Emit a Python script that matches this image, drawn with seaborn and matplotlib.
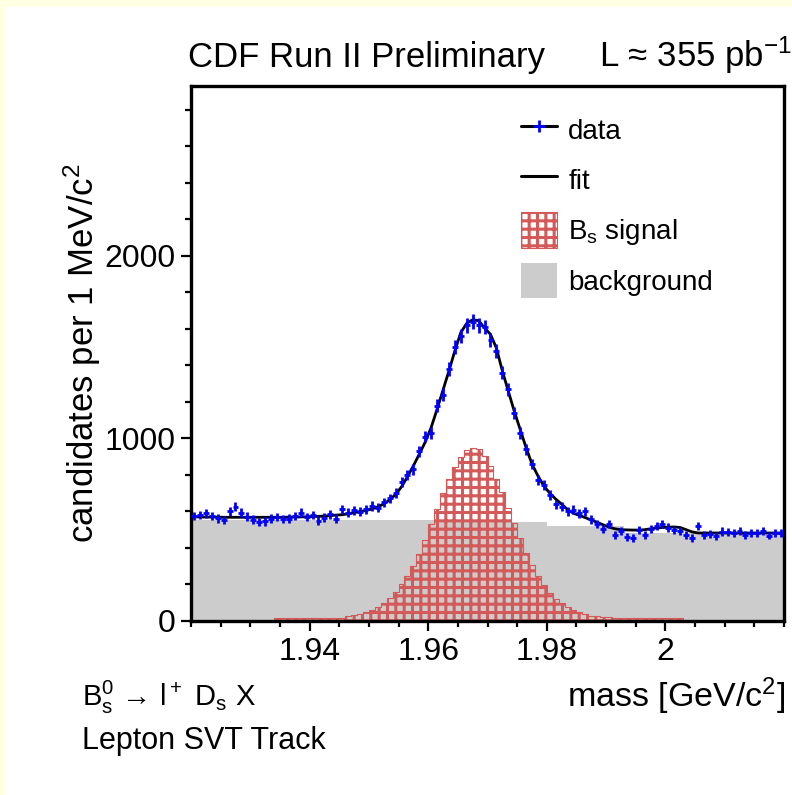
import numpy as np
import matplotlib
matplotlib.use('Agg')
import matplotlib.pyplot as plt
import seaborn as sns
from matplotlib.lines import Line2D
from matplotlib.patches import Patch, Rectangle
from matplotlib.ticker import MultipleLocator

sns.set_style('ticks')
plt.rcParams['font.family'] = ['Liberation Sans', 'DejaVu Sans']
plt.rcParams['mathtext.default'] = 'regular'
plt.rcParams['hatch.linewidth'] = 2.2
plt.rcParams['hatch.color'] = '#d45959'
plt.rcParams['text.color'] = 'black'
plt.rcParams['xtick.color'] = 'black'
plt.rcParams['ytick.color'] = 'black'

# massa dalam bin 1 MeV, 1.920 - 2.020 GeV
massLow = 1.920
binWidth = 0.001

dataCounts = [575, 580, 590, 575, 562, 553, 600, 625, 592, 572,
              555, 542, 545, 560, 570, 558, 560, 575, 592, 570,
              580, 550, 566, 585, 560, 612, 592, 606, 598, 612,
              630, 620, 650, 672, 700, 760, 800, 830, 930, 1010,
              1030, 1180, 1240, 1380, 1500, 1560, 1620, 1640, 1620, 1610,
              1540, 1480, 1360, 1270, 1140, 1030, 940, 860, 770, 745,
              690, 640, 625, 600, 610, 590, 600, 556, 532, 505,
              530, 470, 495, 462, 455, 500, 470, 505, 520, 530,
              512, 500, 495, 472, 455, 520, 470, 475, 465, 490,
              486, 480, 495, 470, 484, 480, 492, 468, 480, 484]

fitValues = [570, 570, 569, 569, 569, 568, 568, 568, 568, 568,
             568, 568, 568, 568, 568, 568, 569, 569, 570, 571,
             572, 573, 575, 577, 580, 582, 587, 593, 600, 605,
             613, 625, 641, 663, 693, 735, 790, 850, 914, 980,
             1060, 1160, 1265, 1370, 1480, 1580, 1630, 1650, 1645, 1605,
             1570, 1495, 1370, 1260, 1150, 1050, 950, 860, 795, 740,
             700, 668, 640, 610, 590, 578, 566, 553, 540, 527,
             514, 505, 500, 499, 498, 498, 500, 505, 510, 512,
             514, 515, 512, 500, 488, 482, 482, 482, 482, 482,
             482, 482, 482, 482, 482, 482, 482, 482, 482, 482]

# sinyal Bs (histogram MC), mulai 1.934 GeV
signalStart = 1.934
signalCounts = [14, 14, 14, 14, 14, 14, 14, 14, 14, 14, 14, 14,
                25, 32, 40, 50, 62, 78, 98, 128, 160, 200,
                245, 300, 368, 445, 530, 615, 700, 775, 845, 900,
                935, 950, 940, 905, 850, 780, 705, 620, 535, 455,
                375, 305, 245, 195, 155, 120, 96, 77, 60, 48,
                38, 30, 25, 22, 20, 18,
                14, 14, 14, 14, 14, 14, 14, 14, 14, 14, 14]

# background (bin kasar)
bgEdges = [1.920, 1.968, 1.980, 1.993, 2.020]
bgCounts = [553, 540, 520, 482]

xTicks = [1.94, 1.96, 1.98, 2.00]
xTickLabels = ['1.94', '1.96', '1.98', '2']
yTicks = [0, 1000, 2000]
yTickLabels = ['0', '1000', '2000']

red = '#d45959'
gray = '#cccccc'

centers = massLow + (np.arange(len(dataCounts)) + 0.5) * binWidth
sigEdges = [signalStart + i * binWidth for i in range(len(signalCounts) + 1)]
sigCenters = [e + binWidth / 2 for e in sigEdges[:-1]]
bgCenters = [(a + b) / 2 for a, b in zip(bgEdges[:-1], bgEdges[1:])]

fig = plt.figure(figsize=(7.92, 7.95), dpi=100, facecolor='#ffffe4')
fig.patches.append(Rectangle((5 / 792, 0), 1, 1 - 7 / 795, transform=fig.transFigure,
                             facecolor='white', edgecolor='none', zorder=-10))
ax = fig.add_axes([191 / 792, 1 - 621 / 795, 593 / 792, 535 / 795])
ax.set_zorder(1)

sns.histplot(x=bgCenters, weights=bgCounts, bins=bgEdges, element='step', fill=True,
             color=gray, alpha=1, linewidth=0, ax=ax, zorder=1)
sns.histplot(x=sigCenters, weights=signalCounts, bins=sigEdges, element='step', fill=True,
             color=red, facecolor='none', edgecolor=red, hatch='++', linewidth=0.8,
             ax=ax, zorder=2)
sns.lineplot(x=centers, y=fitValues, color='black', linewidth=2, ax=ax, zorder=3)
ax.errorbar(centers, dataCounts, yerr=np.sqrt(dataCounts), xerr=binWidth / 2,
            fmt='none', ecolor='blue', elinewidth=2, zorder=4)

ax.set_xlim(1.920, 2.020)
ax.set_ylim(0, 2930)
ax.set_xticks(xTicks, xTickLabels)
ax.set_yticks(yTicks, yTickLabels)
ax.xaxis.set_minor_locator(MultipleLocator(0.005))
ax.yaxis.set_minor_locator(MultipleLocator(200))
ax.tick_params(which='major', direction='out', length=7.2, width=1.6, labelsize=23, pad=4)
ax.tick_params(which='minor', direction='out', length=4.3, width=1.6)
ax.set_xlabel('')
ax.set_ylabel('')
for sp in ax.spines.values():
    sp.set_visible(True)
    sp.set_linewidth(2.4)
    sp.set_color('black')
ax.set_facecolor('white')

handles = [
    Line2D([], [], color='black', lw=2.2, marker='+', markeredgecolor='blue',
           markersize=8, markeredgewidth=2),
    Line2D([], [], color='black', lw=2.2),
    Patch(facecolor='white', edgecolor=red, hatch='++', linewidth=0.8),
    Patch(facecolor=gray, edgecolor='none'),
]
labels = ['data', 'fit', 'B$_s$ signal', 'background']
ax.legend(handles, labels, loc='upper left', bbox_to_anchor=(0.5565, 0.951),
          frameon=False, fontsize=20, borderpad=0, borderaxespad=0,
          handlelength=1.3, handleheight=1.6, handletextpad=0.4, labelspacing=0.52)

fig.text(188 / 792, 1 - 67 / 795, 'CDF Run II Preliminary', fontsize=25, va='baseline')
fig.text(599 / 792, 1 - 67 / 795, 'L \u2248 355 pb$^{-1}$', fontsize=25, va='baseline')
fig.text(82 / 792, 1 - 353 / 795, 'candidates per 1 MeV/c$^2$', fontsize=25,
         rotation=90, ha='center', va='center')
fig.text(785 / 792, 1 - 707 / 795, 'mass [GeV/c$^2$]', fontsize=24.5, ha='right', va='baseline')
fig.text(82 / 792, 1 - 706 / 795, 'B$_s^0$ \u2192 l$^+$ D$_s$ X', fontsize=21, va='baseline')
fig.text(82 / 792, 1 - 749 / 795, 'Lepton SVT Track', fontsize=22, va='baseline')

fig.savefig('out.png', dpi=100, facecolor=fig.get_facecolor())
